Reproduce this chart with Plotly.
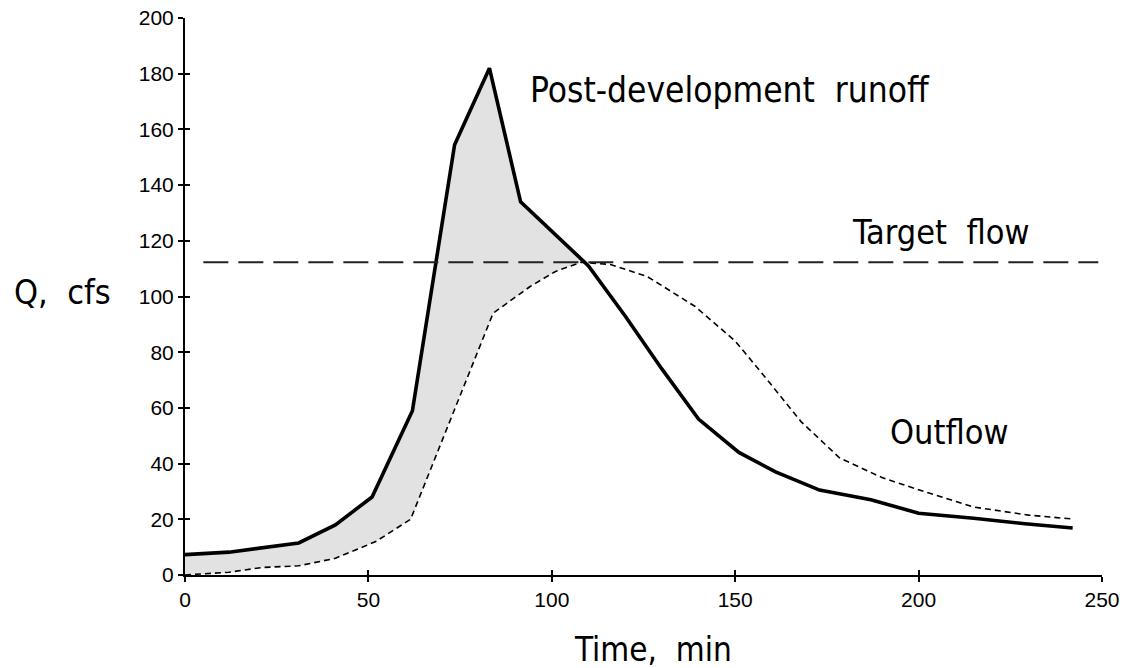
import plotly.graph_objects as go

# Post-development runoff hydrograph (solid)
runoff_t = [0, 12, 31, 41, 51, 62, 73.5, 83, 91.5, 110, 120, 130, 140, 151, 161, 173, 187, 200, 215, 229, 242]
runoff_q = [7.3, 8.2, 11.5, 18, 28, 59, 154.5, 182, 134, 111, 93, 74, 56, 44, 37, 30.5, 27, 22.2, 20.4, 18.4, 16.9]

# Outflow hydrograph (dashed)
outflow_t = [0, 12, 21, 31, 41, 52, 61.5, 72.5, 84, 94, 101, 108, 116, 126, 139, 150, 158, 168, 178.5, 190, 200, 215, 230, 242]
outflow_q = [0, 1, 2.7, 3.3, 6, 12, 20, 56.5, 94, 103.5, 109, 112.3, 111.5, 107.2, 96.5, 84, 71.3, 55, 42, 35, 30.6, 24.4, 21.5, 20.1]

# Target flow
target_t = [5, 249]
target_q = [112.3, 112.3]

x_ticks = [0, 50, 100, 150, 200, 250]
y_ticks = [0, 20, 40, 60, 80, 100, 120, 140, 160, 180, 200]

cross_t = 110  # shading between hydrographs up to where they cross

fill_x = [t for t in runoff_t if t <= cross_t] + [t for t in reversed(outflow_t) if t <= cross_t]
fill_y = [q for t, q in zip(runoff_t, runoff_q) if t <= cross_t] + \
         [q for t, q in zip(reversed(outflow_t), reversed(outflow_q)) if t <= cross_t]

LABEL_FONT = "DejaVu Sans Condensed, Liberation Sans Narrow, DejaVu Sans"
TICK_FONT = "Liberation Sans, Arial"

fig = go.Figure()

fig.add_trace(go.Scatter(x=fill_x, y=fill_y, fill="toself", mode="none",
                         fillcolor="#e2e2e2", hoverinfo="skip", showlegend=False))
fig.add_trace(go.Scatter(x=outflow_t, y=outflow_q, mode="lines",
                         line=dict(color="black", width=1.6, dash="6px,4px"),
                         showlegend=False))
fig.add_trace(go.Scatter(x=runoff_t, y=runoff_q, mode="lines",
                         line=dict(color="black", width=3.6),
                         showlegend=False))
fig.add_trace(go.Scatter(x=target_t, y=target_q, mode="lines", xaxis="x2", yaxis="y2",
                         line=dict(color="#222", width=1.8, dash="25px,10px"),
                         showlegend=False))

axis_common = dict(showgrid=False, zeroline=False, linecolor="black", linewidth=2,
                   tickcolor="black", tickwidth=1.5, ticklen=5, automargin=False,
                   ticklabeloverflow="allow",
                   tickfont=dict(family=TICK_FONT, size=21, color="black"))
inner_common = dict(ticks="inside", showline=False, showticklabels=False, showgrid=False,
                    zeroline=False, tickcolor="black", tickwidth=1.5, ticklen=5, automargin=False)

fig.update_layout(
    width=1133, height=668,
    margin=dict(l=185, r=31, t=18, b=93, autoexpand=False),
    plot_bgcolor="white", paper_bgcolor="white",
    xaxis=dict(range=[0, 250], tickvals=x_ticks, ticks="outside", showline=True, **axis_common),
    yaxis=dict(range=[0, 200], tickvals=y_ticks, ticks="outside", showline=True, **axis_common),
    xaxis2=dict(range=[0, 250], tickvals=x_ticks, overlaying="x", anchor="y2", **inner_common),
    yaxis2=dict(range=[0, 200], tickvals=y_ticks, overlaying="y", anchor="x2", **inner_common),
    showlegend=False,
)

lab = dict(family=LABEL_FONT, size=34, color="black")
fig.add_annotation(x=93.5, y=174, xref="x", yref="y", text="Post-development  runoff",
                   showarrow=False, xanchor="left", yanchor="middle",
                   font=dict(family=LABEL_FONT, size=35, color="black"))
fig.add_annotation(x=181.2, y=123, xref="x", yref="y", text="Target  flow",
                   showarrow=False, xanchor="left", yanchor="middle", font=lab)
fig.add_annotation(x=191.6, y=51.5, xref="x", yref="y", text="Outflow",
                   showarrow=False, xanchor="left", yanchor="middle", font=lab)
fig.add_annotation(x=127.5, y=0, xref="x", yref="paper", yshift=-74, text="Time,  min",
                   showarrow=False, xanchor="center", yanchor="middle",
                   font=dict(family=LABEL_FONT, size=33, color="black"))
fig.add_annotation(x=0, y=101.5, xref="paper", yref="y", xshift=-173, text="Q,  cfs",
                   showarrow=False, xanchor="left", yanchor="middle", font=lab)

fig.write_html("out.html", config={"displayModeBar": False},
               post_script="document.body.style.margin='0';")
